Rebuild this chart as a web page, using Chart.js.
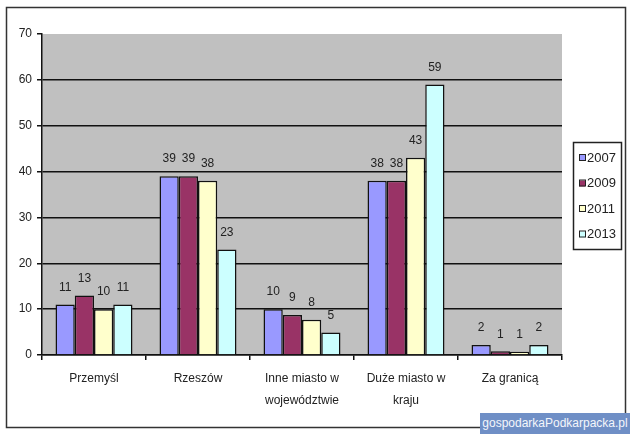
<!DOCTYPE html>
<html>
<head>
<meta charset="utf-8">
<script src="https://cdn.jsdelivr.net/npm/chart.js@4/dist/chart.umd.min.js"></script>
<style>
  html, body { margin: 0; padding: 0; background: #fff; }
  #wrap { position: relative; width: 630px; height: 435px; }
  #watermark {
    position: absolute; left: 480px; top: 413px; width: 150px; height: 21px;
    background: #6f8fc6; color: #f4f6fb; font: 12px "Liberation Sans", Arial, sans-serif;
    line-height: 21px; text-align: center; white-space: nowrap; overflow: hidden;
  }
</style>
</head>
<body>
<div id="wrap">
  <canvas id="chart" width="630" height="435"></canvas>
  <div id="watermark">gospodarkaPodkarpacka.pl</div>
</div>
<script>
// dane z wykresu
const categories = [['Przemyśl'], ['Rzeszów'], ['Inne miasto w', 'województwie'], ['Duże miasto w', 'kraju'], ['Za granicą']];
const seriesNames = ['2007', '2009', '2011', '2013'];
const values2007 = [11, 39, 10, 38, 2.2];
const values2009 = [13, 39, 8.7, 38, 0.8];
const values2011 = [10, 38, 7.7, 43, 0.7];
const values2013 = [11, 23, 4.9, 59, 2.2];
const yTicks = [0, 10, 20, 30, 40, 50, 60, 70];

const colors = ['#9999ff', '#993366', '#ffffcc', '#ccffff'];
const FONT = '"Liberation Sans", Arial, sans-serif';

// tlo + ramka
const backgroundPlugin = {
  id: 'background',
  beforeDraw(chart) {
    const { ctx, chartArea } = chart;
    ctx.save();
    ctx.fillStyle = '#fff';
    ctx.fillRect(0, 0, chart.width, chart.height);
    ctx.fillStyle = '#c0c0c0';
    ctx.fillRect(chartArea.left, chartArea.top, chartArea.right - chartArea.left, chartArea.bottom - chartArea.top);
    ctx.strokeStyle = '#333';
    ctx.lineWidth = 1.5;
    ctx.strokeRect(6.5, 7.5, 619, 420);
    ctx.restore();
  }
};

// etykiety nad slupkami
const valueLabels = {
  id: 'valueLabels',
  afterDatasetsDraw(chart) {
    const { ctx } = chart;
    ctx.save();
    ctx.font = '12px ' + FONT;
    ctx.fillStyle = '#222';
    ctx.textAlign = 'center';
    ctx.textBaseline = 'middle';
    chart.data.datasets.forEach((ds, i) => {
      chart.getDatasetMeta(i).data.forEach((bar, j) => {
        ctx.fillText(Math.round(ds.data[j]), bar.x, bar.y - 17);
      });
    });
    ctx.restore();
  }
};

// legenda w ramce
const boxLegend = {
  id: 'boxLegend',
  afterDraw(chart) {
    const { ctx } = chart;
    ctx.save();
    ctx.strokeStyle = '#222';
    ctx.lineWidth = 1.5;
    ctx.strokeRect(573.5, 142.5, 48, 107);
    ctx.font = '13px ' + FONT;
    ctx.textBaseline = 'middle';
    ctx.textAlign = 'left';
    chart.data.datasets.forEach((ds, i) => {
      const y = 158 + i * 25.5;
      ctx.fillStyle = ds.backgroundColor;
      ctx.fillRect(579, y - 3, 6, 6);
      ctx.strokeStyle = '#222';
      ctx.lineWidth = 1;
      ctx.strokeRect(579.5, y - 3.5, 6, 6);
      ctx.fillStyle = '#222';
      ctx.fillText(ds.label, 587, y);
    });
    ctx.restore();
  }
};

const allValues = [values2007, values2009, values2011, values2013];

new Chart(document.getElementById('chart'), {
  type: 'bar',
  data: {
    labels: categories,
    datasets: seriesNames.map((name, i) => ({
      label: name,
      data: allValues[i],
      backgroundColor: colors[i],
      borderColor: '#111',
      borderWidth: 1.5,
      categoryPercentage: 0.74,
      barPercentage: 1.0
    }))
  },
  options: {
    responsive: false,
    animation: false,
    layout: { padding: { left: 0, top: 34, right: 68, bottom: 0 } },
    plugins: {
      legend: { display: false },
      tooltip: { enabled: false }
    },
    scales: {
      x: {
        afterFit(scale) { scale.height = 80; },
        grid: {
          offset: true,
          drawOnChartArea: false,
          drawTicks: true,
          tickLength: 5,
          color: '#111',
          lineWidth: 1.5
        },
        border: { color: '#111', width: 1.5 },
        ticks: {
          color: '#222',
          padding: 8,
          maxRotation: 0,
          autoSkip: false,
          font: { family: FONT, size: 12, lineHeight: 1.8 }
        }
      },
      y: {
        min: 0,
        max: 70,
        afterFit(scale) { scale.width = 42; },
        afterBuildTicks(scale) { scale.ticks = yTicks.map(v => ({ value: v })); },
        grid: {
          color: ctx => (ctx.tick && ctx.tick.value === 70 ? 'rgba(0,0,0,0)' : '#111'),
          lineWidth: 1.5,
          drawTicks: true,
          tickLength: 5,
          tickColor: '#111'
        },
        border: { color: '#111', width: 1.5 },
        ticks: {
          color: '#222',
          padding: 5,
          font: { family: FONT, size: 12 }
        }
      }
    }
  },
  plugins: [backgroundPlugin, valueLabels, boxLegend]
});
</script>
</body>
</html>
